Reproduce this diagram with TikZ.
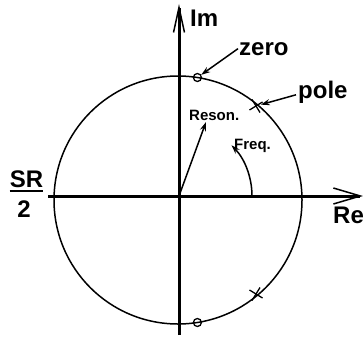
\documentclass[tikz,border=0pt]{standalone}
\usepackage{fontspec}
\setmainfont{Liberation Sans}
\usetikzlibrary{arrows.meta}
\begin{document}
\begin{tikzpicture}[x=1pt,y=-1pt,
 big/.style={font=\fontsize{24}{28}\selectfont\bfseries, inner sep=0pt},
 small/.style={font=\fontsize{15}{18}\selectfont\bfseries, inner sep=0pt},
 imaxis/.style={line width=3pt, -{Straight Barb[length=25pt,width=11pt,line width=1.5pt]}},
 reaxis/.style={line width=3pt, -{Straight Barb[length=27pt,width=16pt,line width=1.5pt]}},
 ptr/.style={line width=1.5pt, -{Stealth[length=9pt,width=6pt]}},
 unit/.style={line width=1.5pt},
 zeromark/.style={circle, draw, line width=1.3pt, minimum size=8pt, inner sep=0pt},
 polemark/.style={line width=1.3pt},
]
\useasboundingbox (0,0) rectangle (363,337);
\coordinate (O) at (179,196);
\coordinate (C) at (178,200);
\draw[unit] (C) circle[radius=124pt];
% axes
\coordinate (imtip) at (179,4);
\coordinate (imbot) at (179,335);
\draw[imaxis] (imbot) -- (imtip);
\coordinate (reL) at (48,196);
\coordinate (reR) at (363,196);
\draw[reaxis] (reL) -- (reR);
% zeros and poles
\node[zeromark] (z1) at (197.4,77.5) {};
\node[zeromark] (z2) at (197.4,322.5) {};
\coordinate (p1) at (256,106);
\coordinate (p2) at (256,294);
\draw[polemark] ([shift={(-4,-6.5)}]p1) -- ([shift={(4,6.5)}]p1);
\draw[polemark] ([shift={(-6.5,4)}]p1) -- ([shift={(6.5,-4)}]p1);
\draw[polemark] ([shift={(-4,6.5)}]p2) -- ([shift={(4,-6.5)}]p2);
\draw[polemark] ([shift={(-6.5,-4)}]p2) -- ([shift={(6.5,4)}]p2);
% labels
\node[big, anchor=base west] (im) at (190,27) {Im};
\node[big, anchor=base west] (re) at (333,223) {Re};
\node[big, anchor=base west] (zero) at (239,55) {zero};
\node[big, anchor=base west] (pole) at (298,98) {pole};
\node[small, anchor=base west] (reson) at (189,120) {Reson.};
\node[small, anchor=base west] (freq) at (234,149) {Freq.};
\node[big, anchor=base] (sr) at (26.5,187) {SR};
\node[big, anchor=base] (two) at (24,217) {2};
\draw[line width=2pt] ([yshift=-4pt]sr.south west) -- ([yshift=-4pt]sr.south east);
% pointers
\draw[ptr] ([xshift=-1pt]zero.west) -- (z1);
\draw[ptr, shorten >=5pt] ([xshift=-2pt,yshift=-3pt]pole.west) -- (p1);
\coordinate (rtip) at (206,122);
\draw[ptr] (O) -- (rtip);
\coordinate (fstart) at (252,196);
\draw[ptr] (fstart) arc[start angle=0, end angle=44, radius=73pt];
\end{tikzpicture}
\end{document}
